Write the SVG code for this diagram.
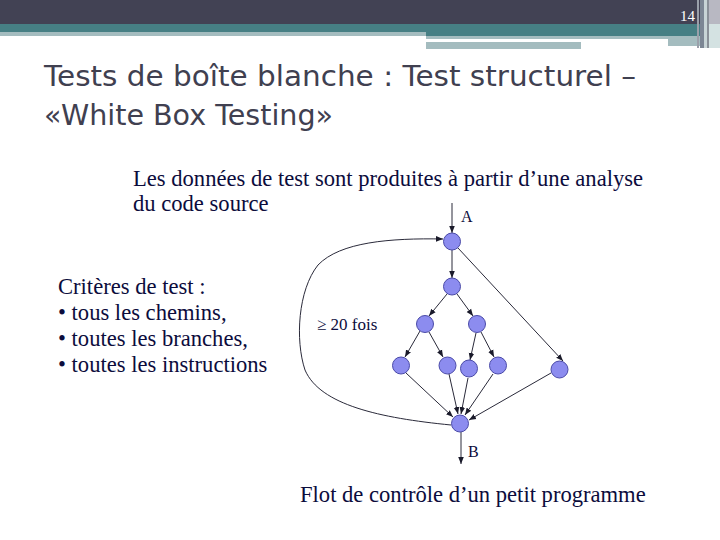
<svg xmlns="http://www.w3.org/2000/svg" width="720" height="540" viewBox="0 0 720 540">
<defs>
<marker id="ah" viewBox="0 0 10 10" refX="10" refY="5" markerWidth="7" markerHeight="7" markerUnits="userSpaceOnUse" orient="auto">
<path d="M0,1 L10,5 L0,9 z" fill="#1a1a2a"/>
</marker>
<style>
.ser{font-family:"Liberation Serif","Times New Roman",serif;fill:#0c0c3c}
.edge{stroke:#2a2a3a;stroke-width:1;fill:none;marker-end:url(#ah)}
.nd{fill:#8c8cef;stroke:#4a4aa8;stroke-width:1}
.ttl{font-family:"DejaVu Sans","Open Sans",sans-serif;font-size:28px;fill:#404050}
</style>
</defs>
<rect width="720" height="540" fill="#ffffff"/>
<g id="header">
<rect x="0" y="0" width="720" height="24" fill="#424254"/>
<rect x="0" y="24" width="700" height="8" fill="#467f84"/>
<rect x="0" y="32" width="426" height="4" fill="#a4bcbf"/>
<rect x="426" y="32" width="274" height="4" fill="#467f84"/>
<rect x="426" y="36" width="274" height="3" fill="#a4bcbf"/>
<rect x="426" y="39" width="242" height="3" fill="#ffffff"/>
<rect x="426" y="42" width="155" height="7" fill="#a4bcbf"/>
<rect x="668" y="39" width="32" height="7" fill="#a4bcbf"/>
<rect x="697" y="0" width="2" height="48" fill="#9aa0aa"/>
<rect x="700" y="0" width="4" height="48" fill="#7c8694"/>
<rect x="704" y="0" width="3" height="48" fill="#c8d4d6"/>
<rect x="707" y="0" width="2" height="48" fill="#8a9098"/>
<rect x="709" y="0" width="11" height="24" fill="#b8b8c2"/>
<rect x="709" y="24" width="11" height="24" fill="#d4e2e2"/>
<text x="680" y="21" font-family="Liberation Serif, serif" font-size="15" fill="#ffffff">14</text>
</g>
<g id="title">
<text class="ttl" x="44" y="86" textLength="592" lengthAdjust="spacingAndGlyphs">Tests de boîte blanche : Test structurel –</text>
<text class="ttl" x="44" y="125" textLength="289" lengthAdjust="spacingAndGlyphs">«White Box Testing»</text>
</g>
<g id="intro">
<text class="ser" x="133" y="186" font-size="22.6">Les données de test sont produites à partir d’une analyse</text>
<text class="ser" x="133" y="211" font-size="22.6">du code source</text>
</g>
<g id="criteria">
<text class="ser" x="58" y="294" font-size="22.6">Critères de test :</text>
<text class="ser" x="58" y="320" font-size="22.6">• tous les chemins,</text>
<text class="ser" x="58" y="346" font-size="22.6">• toutes les branches,</text>
<text class="ser" x="58" y="372" font-size="22.6">• toutes les instructions</text>
</g>
<g id="connectors">
<line class="edge" x1="452" y1="203" x2="452" y2="233"/>
<line class="edge" x1="452" y1="250" x2="452" y2="278"/>
<line class="edge" x1="458" y1="248" x2="563" y2="361"/>
<line class="edge" x1="447" y1="294" x2="429" y2="316"/>
<line class="edge" x1="457" y1="294" x2="473" y2="316"/>
<line class="edge" x1="420" y1="331" x2="405" y2="357"/>
<line class="edge" x1="429" y1="332" x2="443" y2="357"/>
<line class="edge" x1="476" y1="333" x2="470" y2="360"/>
<line class="edge" x1="481" y1="332" x2="494" y2="357"/>
<line class="edge" x1="406" y1="373" x2="453" y2="417"/>
<line class="edge" x1="449" y1="374" x2="458" y2="414"/>
<line class="edge" x1="468" y1="378" x2="461" y2="414"/>
<line class="edge" x1="493" y1="374" x2="465" y2="415"/>
<line class="edge" x1="551" y1="373" x2="469" y2="420"/>
<line class="edge" x1="461" y1="432" x2="461" y2="464"/>
<path class="edge" d="M451,425 C380,418 320,405 305,370 C295,340 298,290 318,265 C340,242 390,238 443,239"/>
</g>
<g id="nodes">
<circle id="n1" class="nd" cx="452" cy="241.5" r="8.5"/>
<circle id="n2" class="nd" cx="452" cy="286.5" r="8.5"/>
<circle id="n3" class="nd" cx="425" cy="324" r="8.5"/>
<circle id="n4" class="nd" cx="477" cy="324" r="8.5"/>
<circle id="n5" class="nd" cx="401" cy="365.5" r="8.5"/>
<circle id="n6" class="nd" cx="447.5" cy="365.5" r="8.5"/>
<circle id="n7" class="nd" cx="469" cy="368.5" r="8.5"/>
<circle id="n8" class="nd" cx="498" cy="365.5" r="8.5"/>
<circle id="n9" class="nd" cx="559.5" cy="369.5" r="8.5"/>
<circle id="n10" class="nd" cx="460" cy="423.5" r="8.5"/>
</g>
<g id="labels">
<text class="ser" x="461" y="222" font-size="16">A</text>
<text class="ser" x="468" y="457" font-size="16">B</text>
<text class="ser" x="317" y="330" font-size="17">≥ 20 fois</text>
<text class="ser" x="300" y="502" font-size="22.6">Flot de contrôle d’un petit programme</text>
</g>
</svg>
